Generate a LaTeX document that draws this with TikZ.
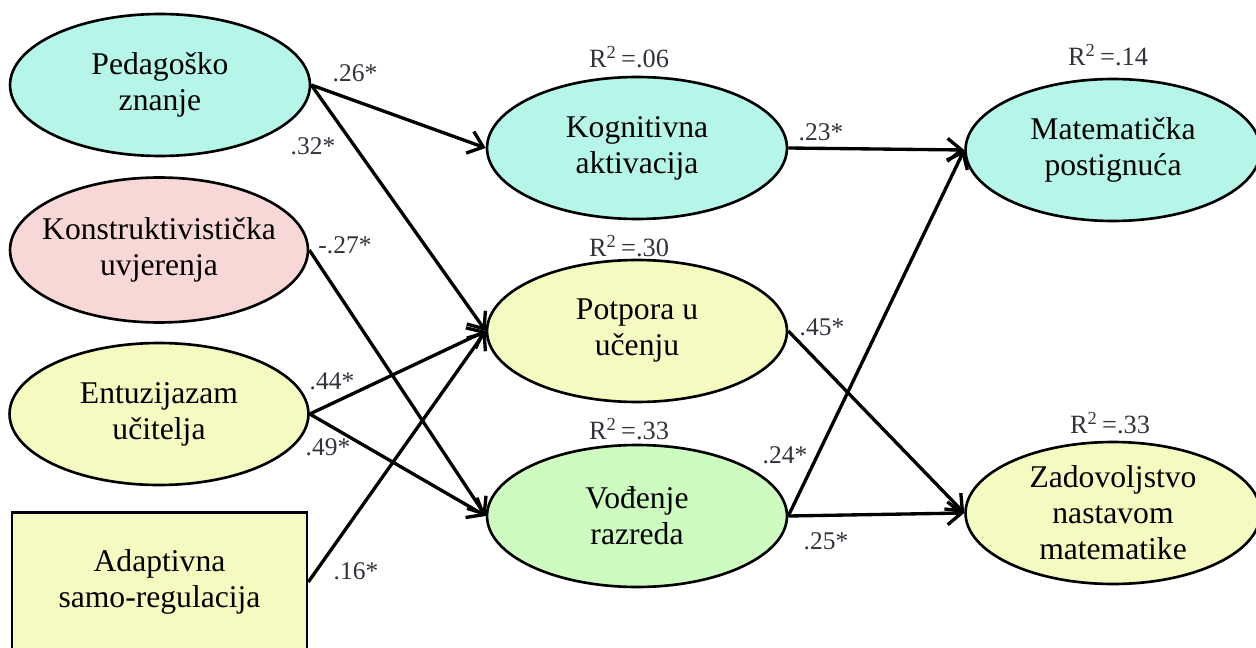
\documentclass[tikz,border=0pt]{standalone}
\usepackage{fontspec}
\setmainfont{Liberation Serif}
\usetikzlibrary{shapes.geometric,arrows.meta}
\definecolor{cyanfill}{RGB}{182,246,233}
\definecolor{pinkfill}{RGB}{248,215,215}
\definecolor{yellowfill}{RGB}{245,250,192}
\definecolor{greenfill}{RGB}{206,252,192}
\definecolor{labgray}{RGB}{50,50,60}
\tikzset{
  ell/.style={ellipse, draw=black, line width=1.5pt, minimum width=6cm, minimum height=2.84cm, inner xsep=-2cm, inner ysep=-1cm, align=center, font=\fontsize{18}{20.5}\selectfont},
  boxnode/.style={rectangle, draw=black, line width=1.5pt, minimum width=5.9cm, minimum height=2.78cm, inner sep=0pt, align=center, font=\fontsize{18}{20.5}\selectfont},
  arr/.style={line width=1.9pt, -{Straight Barb[length=8pt,width=13pt]}},
  coef/.style={font=\fontsize{14.5}{16}\selectfont, text=labgray, inner sep=0pt},
  rsq/.style={font=\fontsize{15}{16}\selectfont, text=labgray, inner sep=0pt}
}
\begin{document}
\begin{tikzpicture}[x=0.02cm,y=-0.02cm]
\useasboundingbox (0,0) rectangle (1256,648);
\clip (0,0) rectangle (1256,648);
% left column
\node[ell, fill=cyanfill] (ped) at (160,85) {Pedagoško\\znanje};
\node[ell, fill=pinkfill, minimum width=5.96cm, minimum height=2.9cm] (kon) at (159,250) {Konstruktivistička\\uvjerenja};
\node[ell, fill=yellowfill, minimum width=5.98cm] (ent) at (159,414) {Entuzijazam\\učitelja};
\node[boxnode, fill=yellowfill] (ada) at (159.5,582) {Adaptivna\\samo-regulacija};
% middle column
\node[ell, fill=cyanfill] (kog) at (637,148) {Kognitivna\\aktivacija};
\node[ell, fill=yellowfill] (pot) at (637,331) {Potpora u\\učenju};
\node[ell, fill=greenfill] (vod) at (637,516) {Vođenje\\razreda};
% right column
\node[ell, fill=cyanfill, minimum width=5.9cm] (mat) at (1113,150) {Matematička\\postignuća};
\node[ell, fill=yellowfill, minimum width=5.9cm] (zad) at (1113,513) {Zadovoljstvo\\nastavom\\matematike};
% R squared
\node[rsq] (r1) at (629,57) {R\textsuperscript{2}\,=.06};
\node[rsq] (r2) at (629,246) {R\textsuperscript{2}\,=.30};
\node[rsq] (r3) at (629,429) {R\textsuperscript{2}\,=.33};
\node[rsq] (r4) at (1108,55) {R\textsuperscript{2}\,=.14};
\node[rsq] (r5) at (1110,423) {R\textsuperscript{2}\,=.33};
% connectors
\draw[arr] (ped.east) -- (kog.west);
\draw[arr] (ped.east) -- (pot.west);
\draw[arr] (kon.east) -- (vod.west);
\draw[arr] (ent.east) -- (pot.west);
\draw[arr] (ent.east) -- (vod.west);
\draw[arr] (ada.east) -- (pot.west);
\draw[arr] (kog.east) -- (mat.west);
\draw[arr] (pot.east) -- (zad.west);
\draw[arr] (vod.east) -- (mat.west);
\draw[arr] (vod.east) -- (zad.west);
% coefficients
\node[coef] (c1) at (355,73) {.26*};
\node[coef] (c2) at (313,146) {.32*};
\node[coef] (c3) at (345,245) {-.27*};
\node[coef] (c4) at (332,381) {.44*};
\node[coef] (c5) at (328,447) {.49*};
\node[coef] (c6) at (356,571) {.16*};
\node[coef] (c7) at (821,132) {.23*};
\node[coef] (c8) at (822,327) {.45*};
\node[coef] (c9) at (785,455) {.24*};
\node[coef] (c10) at (826,541) {.25*};
\end{tikzpicture}
\end{document}
